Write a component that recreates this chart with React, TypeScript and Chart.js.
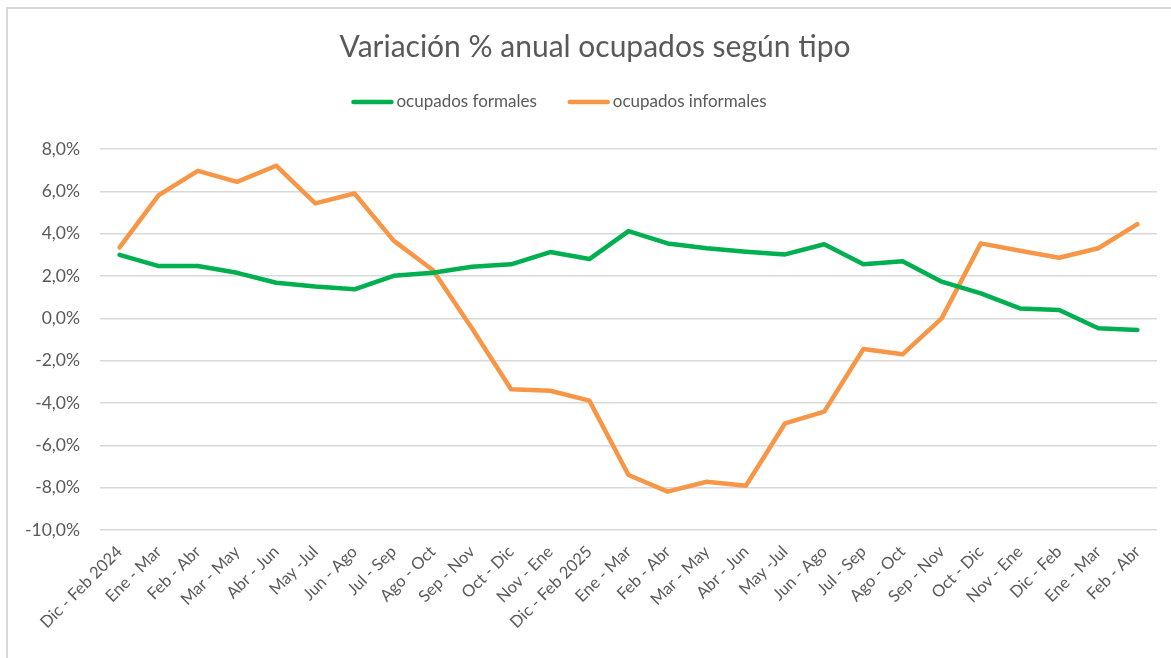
import React, { useEffect, useRef } from "react";
import { Chart, registerables } from "chart.js";

Chart.register(...registerables);

const categories = [
  "Dic - Feb 2024", "Ene - Mar", "Feb - Abr", "Mar - May", "Abr - Jun", "May -Jul", "Jun - Ago",
  "Jul - Sep", "Ago - Oct", "Sep - Nov", "Oct - Dic", "Nov - Ene", "Dic - Feb 2025", "Ene - Mar",
  "Feb - Abr", "Mar - May", "Abr - Jun", "May -Jul", "Jun - Ago", "Jul - Sep", "Ago - Oct",
  "Sep - Nov", "Oct - Dic", "Nov - Ene", "Dic - Feb", "Ene - Mar", "Feb - Abr",
];

const formales = [
  3.0, 2.47, 2.47, 2.15, 1.68, 1.5, 1.37, 2.01, 2.15, 2.44, 2.55, 3.13, 2.8, 4.12,
  3.54, 3.31, 3.15, 3.02, 3.5, 2.55, 2.7, 1.73, 1.18, 0.47, 0.39, -0.47, -0.55,
];

const informales = [
  3.35, 5.82, 6.97, 6.45, 7.21, 5.43, 5.9, 3.67, 2.28, -0.47, -3.35, -3.42, -3.89, -7.4,
  -8.19, -7.72, -7.91, -4.96, -4.41, -1.45, -1.7, 0.0, 3.54, 3.19, 2.86, 3.31, 4.45,
];

const seriesNames = ["ocupados formales", "ocupados informales"];
const titleText = "Variación % anual ocupados según tipo";
const yMin = -10;
const yMax = 8;
const yStep = 2;

const FONT = "Lato, 'Open Sans', sans-serif";
const TEXT = "#595959";

const legendPlugin = {
  id: "lineLegend",
  afterDraw(chart: any) {
    const ctx = chart.ctx;
    ctx.save();
    ctx.font = `17px ${FONT}`;
    const items = chart.data.datasets.map((ds: any) => ({ text: ds.label, color: ds.borderColor }));
    const sw = 42, gap = 3, itemGap = 31;
    const widths = items.map((it: any) => sw + gap + ctx.measureText(it.text).width);
    const total = widths.reduce((a: number, b: number) => a + b, 0) + itemGap * (items.length - 1);
    let x = 559 - total / 2;
    const y = 102;
    items.forEach((it: any, i: number) => {
      ctx.strokeStyle = it.color;
      ctx.lineWidth = 4.5;
      ctx.lineCap = "round";
      ctx.beginPath();
      ctx.moveTo(x + 2, y);
      ctx.lineTo(x + sw - 2, y);
      ctx.stroke();
      ctx.fillStyle = TEXT;
      ctx.textBaseline = "middle";
      ctx.textAlign = "left";
      ctx.fillText(it.text, x + sw + gap, y);
      x += widths[i] + itemGap;
    });
    ctx.restore();
  },
};

export default function App() {
  const ref = useRef<HTMLCanvasElement | null>(null);

  useEffect(() => {
    if (!ref.current) return;
    const chart = new Chart(ref.current, {
      type: "line",
      data: {
        labels: categories,
        datasets: [
          {
            label: seriesNames[0],
            data: formales,
            borderColor: "#00B050",
            backgroundColor: "#00B050",
            borderWidth: 4.5,
            pointRadius: 0,
            tension: 0,
            borderCapStyle: "round",
            borderJoinStyle: "round",
          },
          {
            label: seriesNames[1],
            data: informales,
            borderColor: "#F79646",
            backgroundColor: "#F79646",
            borderWidth: 4.5,
            pointRadius: 0,
            tension: 0,
            borderCapStyle: "round",
            borderJoinStyle: "round",
          },
        ],
      },
      options: {
        responsive: false,
        animation: false,
        events: [],
        layout: { padding: { left: 0, right: 0, top: 0, bottom: 0 } },
        plugins: {
          legend: { display: false },
          tooltip: { enabled: false },
          title: {
            display: true,
            text: titleText,
            color: TEXT,
            font: { family: FONT, size: 30, weight: "normal" },
            padding: { top: 29, bottom: 84 },
          },
        },
        scales: {
          x: {
            offset: true,
            grid: { display: false, drawTicks: false },
            border: { display: false },
            ticks: {
              autoSkip: false,
              minRotation: 45,
              maxRotation: 45,
              padding: 12,
              color: TEXT,
              font: { family: FONT, size: 16.5 },
            },
            afterFit: (s: any) => {
              s.height = 128;
            },
          },
          y: {
            min: yMin,
            max: yMax,
            grid: { color: "#d9d9d9", lineWidth: 1.5, drawTicks: false },
            border: { display: false },
            ticks: {
              stepSize: yStep,
              padding: 20,
              color: TEXT,
              font: { family: FONT, size: 17.5 },
              callback: (v: any) => `${Number(v).toFixed(1).replace(".", ",")}%`,
            },
            afterFit: (s: any) => {
              s.width = 100;
            },
          },
          yRight: {
            position: "right",
            min: yMin,
            max: yMax,
            grid: { display: false, drawTicks: false },
            border: { display: false },
            ticks: { display: false },
            afterFit: (s: any) => {
              s.width = 33;
            },
          },
        },
      },
      plugins: [legendPlugin],
    });
    return () => chart.destroy();
  }, []);

  return (
    <div style={{ position: "fixed", left: 0, top: 0, width: 1171, height: 658, overflow: "hidden", background: "#fff" }}>
      <div
        style={{
          position: "absolute",
          left: 6,
          top: 7,
          width: 1200,
          height: 700,
          border: "2px solid #d9d9d9",
          boxSizing: "border-box",
        }}
      />
      <canvas ref={ref} width={1190} height={658} style={{ position: "absolute", left: 0, top: 0, width: 1190, height: 658 }} />
    </div>
  );
}
